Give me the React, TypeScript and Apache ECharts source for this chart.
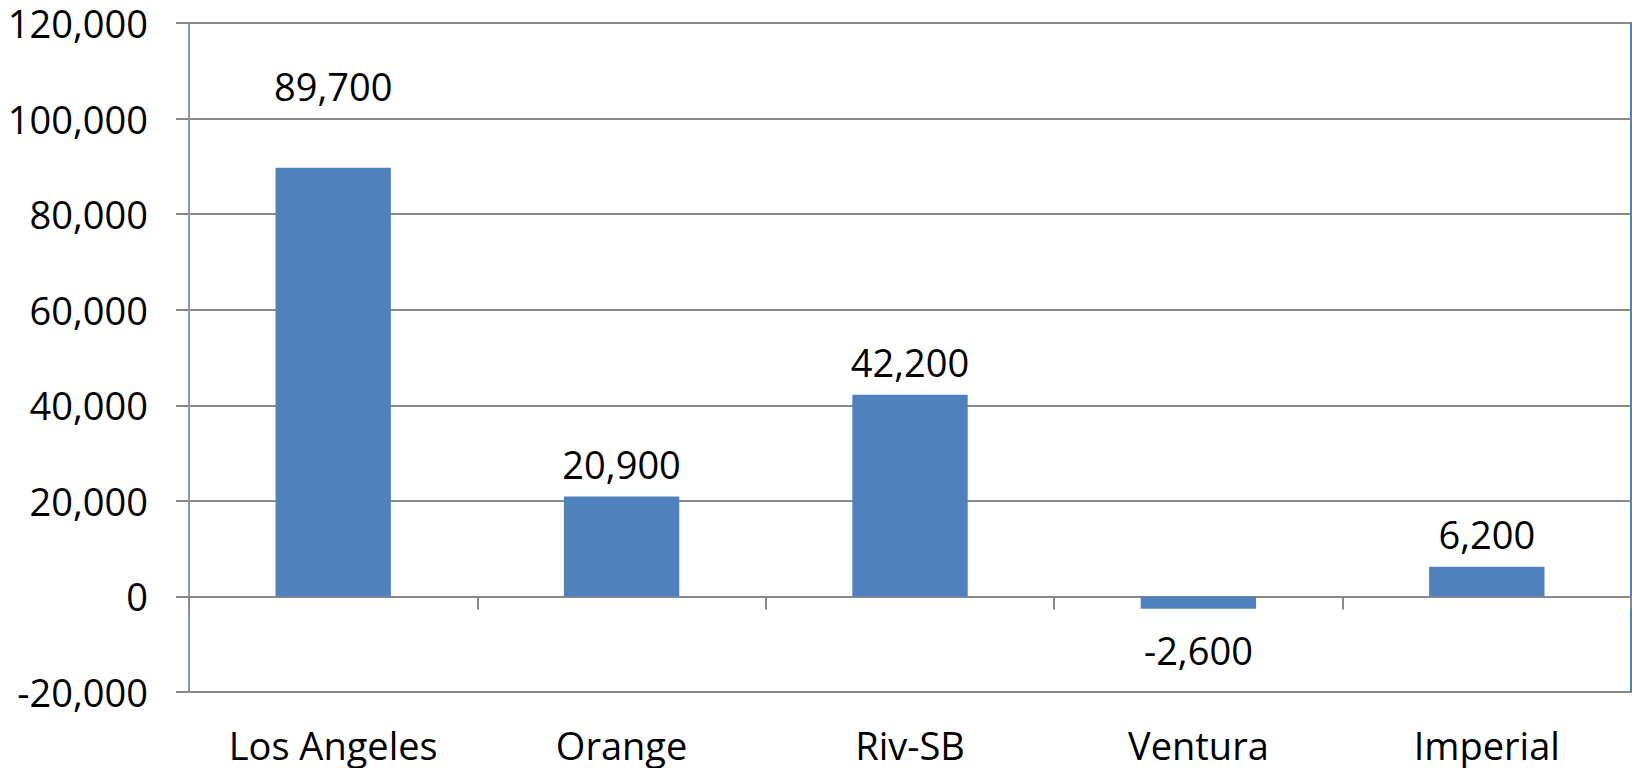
import React, { useEffect, useRef } from "react";
import * as echarts from "echarts";

const categories = ["Los Angeles", "Orange", "Riv-SB", "Ventura", "Imperial"];
const values = [89700, 20900, 42200, -2600, 6200];
const yMin = -20000;
const yMax = 120000;
const yInterval = 20000;

const FONT = "'Open Sans', 'Liberation Sans', sans-serif";
const fmt = (v: number) => v.toLocaleString("en-US");

export default function App() {
  const ref = useRef<HTMLDivElement>(null);
  useEffect(() => {
    document.body.style.margin = "0";
    if (!ref.current) return;
    const chart = echarts.init(ref.current, undefined, { renderer: "svg" });
    const data = values.map((v, i) => {
      let label: any;
      if (v < 0) label = { position: "bottom", distance: 22 };
      else if (i === 0) label = { position: "top", distance: 63 };
      else label = { position: "top", distance: 14 };
      return { value: v, label };
    });
    chart.setOption({
      animation: false,
      backgroundColor: "#ffffff",
      grid: {
        left: 189,
        right: 1,
        top: 23,
        bottom: 76,
        show: true,
        borderColor: "#4F81BD",
        borderWidth: 2,
        backgroundColor: "transparent",
        containLabel: false,
      },
      xAxis: [
        {
          type: "category",
          data: categories,
          axisLine: { onZero: true, lineStyle: { color: "#898989", width: 2 } },
          axisTick: { show: true, length: 13, lineStyle: { color: "#898989", width: 2 } },
          axisLabel: { show: false },
          splitLine: { show: false },
        },
        {
          type: "category",
          data: categories,
          position: "bottom",
          axisLine: { show: false, onZero: false },
          axisTick: { show: false },
          axisLabel: { show: true, fontSize: 38, fontFamily: FONT, color: "#000", margin: 34 },
          splitLine: { show: false },
        },
      ],
      yAxis: {
        type: "value",
        min: yMin,
        max: yMax,
        interval: yInterval,
        axisLine: { show: true, lineStyle: { color: "#8A97A8", width: 2 } },
        axisTick: { show: true, length: 13, lineStyle: { color: "#898989", width: 2 } },
        axisLabel: {
          fontSize: 38,
          fontFamily: FONT,
          color: "#000",
          margin: 41,
          formatter: (v: number) => fmt(v),
        },
        splitLine: { show: true, lineStyle: { color: "#898989", width: 2 } },
      },
      series: [
        {
          type: "bar",
          xAxisIndex: 0,
          data,
          barWidth: "40%",
          itemStyle: { color: "#4F81BD" },
          label: {
            show: true,
            fontSize: 38,
            fontFamily: FONT,
            color: "#000",
            formatter: (p: any) => fmt(p.value),
          },
        },
      ],
    });
    return () => chart.dispose();
  }, []);
  return <div ref={ref} style={{ width: 1632, height: 768 }} />;
}
